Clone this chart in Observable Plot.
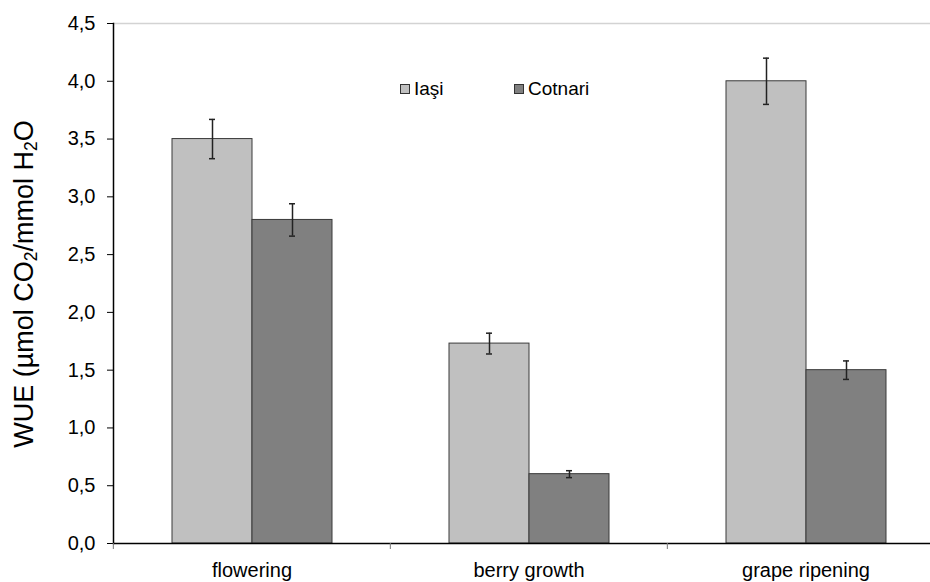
<!DOCTYPE html>
<html>
<head>
<meta charset="utf-8">
<script src="https://cdn.jsdelivr.net/npm/d3@7"></script>
<script src="https://cdn.jsdelivr.net/npm/@observablehq/plot@0.6"></script>
<style>
  body { margin: 0; background: #fff; }
  #wrap { position: relative; width: 930px; height: 582px; overflow: hidden; font-family: "Liberation Sans", Arial, sans-serif; background: #fff; }
  #ytitle { position: absolute; left: 24px; top: 284px; transform: translate(-50%, -50%) rotate(-90deg); white-space: nowrap; font-size: 27px; color: #000; line-height: 1; }
  #ytitle sub { font-size: 65%; vertical-align: -0.25em; line-height: 0; }
  #legend { position: absolute; left: 400px; top: 72px; }
  #legend .lg-swatch { margin-right: 0 !important; width: 114px; }
  #legend .lg-swatch svg { margin-right: 4px !important; outline: 1px solid #333; outline-offset: -1px; }
</style>
</head>
<body>
<div id="wrap"></div>
<script>
const categories = ["flowering", "berry growth", "grape ripening"];
const series = ["Iaşi", "Cotnari"];
const seriesColors = ["#c0c0c0", "#808080"];
const iasiValues = [3.5, 1.73, 4.0];
const cotnariValues = [2.8, 0.6, 1.5];
const iasiErrors = [0.17, 0.09, 0.2];
const cotnariErrors = [0.14, 0.03, 0.08];
const yTicks = [0, 0.5, 1, 1.5, 2, 2.5, 3, 3.5, 4, 4.5];
const yTitleHtml = "WUE (µmol CO<sub>2</sub>/mmol H<sub>2</sub>O";

const rows = categories.flatMap((c, i) => [
  {category: c, series: series[0], value: iasiValues[i], err: iasiErrors[i]},
  {category: c, series: series[1], value: cotnariValues[i], err: cotnariErrors[i]}
]);

const fxRange = [112, 944];
const halfStep = (fxRange[1] - fxRange[0]) / categories.length / 2;
const fmt = d => d.toFixed(1).replace(".", ",");
const font = '"Liberation Sans", Arial, sans-serif';

const chart = Plot.plot({
  width: 930,
  height: 582,
  marginLeft: 112,
  marginRight: 0,
  marginTop: 23,
  marginBottom: 39,
  style: {fontFamily: font, fontSize: "20px", color: "#000", background: "#fff", overflow: "hidden"},
  fx: {domain: categories, range: fxRange, padding: 0, label: null},
  x: {domain: series, paddingInner: 0, paddingOuter: 0.73, axis: null},
  y: {domain: [0, 4.5], label: null},
  color: {domain: series, range: seriesColors},
  marks: [
    Plot.ruleY([4.5], {stroke: "#d3d3d3", strokeWidth: 1.5}),
    Plot.barY(rows, {fx: "category", x: "series", y: "value", fill: "series", stroke: "#3a3a3a", strokeWidth: 1}),
    Plot.ruleX(rows, {fx: "category", x: "series", y1: d => d.value - d.err, y2: d => d.value + d.err, stroke: "#222", strokeWidth: 1.5}),
    Plot.tickY(rows, {fx: "category", x: "series", y: d => d.value + d.err, insetLeft: 37, insetRight: 37, stroke: "#222", strokeWidth: 1.5}),
    Plot.tickY(rows, {fx: "category", x: "series", y: d => d.value - d.err, insetLeft: 37, insetRight: 37, stroke: "#222", strokeWidth: 1.5}),
    Plot.ruleY([0], {stroke: "#000", strokeWidth: 1.5}),
    Plot.frame({anchor: "left", facetAnchor: "left", stroke: "#000", strokeWidth: 1.5}),
    Plot.axisY({ticks: yTicks, tickSize: 6, tickPadding: 12, tickFormat: fmt, label: null, fontSize: 20}),
    Plot.axisFx({anchor: "bottom", tickSize: 0, tickPadding: 19, fontSize: 20, label: null}),
    Plot.axisFx({anchor: "bottom", tickSize: 6, tickFormat: () => "", label: null, dx: -halfStep, stroke: "#777"})
  ]
});

const wrap = document.getElementById("wrap");
wrap.appendChild(chart);

const legend = Plot.legend({
  color: {domain: series, range: seriesColors},
  legend: "swatches",
  swatchSize: 10,
  className: "lg",
  style: {fontFamily: font, fontSize: "19px", color: "#000"}
});
legend.id = "legend";
wrap.appendChild(legend);

const yt = document.createElement("div");
yt.id = "ytitle";
yt.innerHTML = yTitleHtml;
wrap.appendChild(yt);
</script>
</body>
</html>
